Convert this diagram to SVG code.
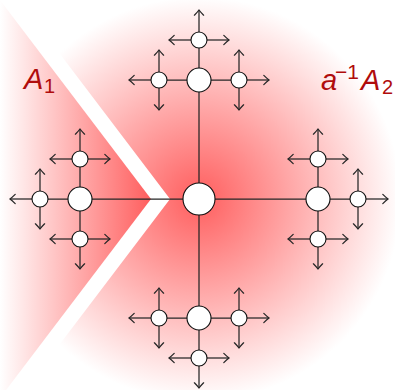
<svg xmlns="http://www.w3.org/2000/svg" width="395" height="390" viewBox="0 0 395 390">
<style>
.ln{stroke:#262626;stroke-width:1.25;fill:none}
.ar{stroke:#262626;stroke-width:1.25;fill:none;marker-end:url(#to)}
.n0,.n1,.n2{fill:#fff;stroke:#111;stroke-width:1.1}
.lbl{font-family:"Liberation Sans",Arial,sans-serif;fill:#b00c0c;font-style:italic}
.up{font-style:normal}
</style>
<defs>
<linearGradient id="gL" gradientUnits="userSpaceOnUse" x1="0" y1="0" x2="151" y2="0">
<stop offset="0" stop-color="#ffffff"/>
<stop offset="1" stop-color="#ff5e5e"/>
</linearGradient>
<radialGradient id="gR" gradientUnits="userSpaceOnUse" cx="199" cy="199" r="202">
<stop offset="0" stop-color="#ff5e5e"/>
<stop offset="1" stop-color="#ffffff"/>
</radialGradient>
<marker id="to" viewBox="-6 -5 7 10" refX="0" refY="0" markerWidth="7" markerHeight="10" markerUnits="userSpaceOnUse" orient="auto" overflow="visible">
<path d="M -5.2,-4.6 Q -1.8,-1.3 0,0 Q -1.8,1.3 -5.2,4.6" fill="none" stroke="#262626" stroke-width="1.25" stroke-linecap="round"/>
</marker>
</defs>
<g id="shading">
<polygon points="0,0 151,199 0,398" fill="url(#gL)"/>
<polygon points="19,0 395,0 395,390 25,390 170,199" fill="url(#gR)"/>
</g>
<g id="connectors">
<path class="ln" d="M199,199V80M199,199H318M199,199V318M199,199H80"/>
<path class="ln" d="M199,80V40M199,80H159M199,80H239"/>
<path class="ln" d="M318,199H358M318,199V159M318,199V239"/>
<path class="ln" d="M199,318V358M199,318H159M199,318H239"/>
<path class="ln" d="M80,199H40M80,199V159M80,199V239"/>
<line class="ar" x1="199" y1="40" x2="199" y2="10"/>
<line class="ar" x1="199" y1="40" x2="169" y2="40"/>
<line class="ar" x1="199" y1="40" x2="229" y2="40"/>
<line class="ar" x1="159" y1="80" x2="129" y2="80"/>
<line class="ar" x1="159" y1="80" x2="159" y2="50"/>
<line class="ar" x1="159" y1="80" x2="159" y2="110"/>
<line class="ar" x1="239" y1="80" x2="269" y2="80"/>
<line class="ar" x1="239" y1="80" x2="239" y2="50"/>
<line class="ar" x1="239" y1="80" x2="239" y2="110"/>
<line class="ar" x1="358" y1="199" x2="388" y2="199"/>
<line class="ar" x1="358" y1="199" x2="358" y2="169"/>
<line class="ar" x1="358" y1="199" x2="358" y2="229"/>
<line class="ar" x1="318" y1="159" x2="318" y2="129"/>
<line class="ar" x1="318" y1="159" x2="288" y2="159"/>
<line class="ar" x1="318" y1="159" x2="348" y2="159"/>
<line class="ar" x1="318" y1="239" x2="318" y2="269"/>
<line class="ar" x1="318" y1="239" x2="288" y2="239"/>
<line class="ar" x1="318" y1="239" x2="348" y2="239"/>
<line class="ar" x1="199" y1="358" x2="199" y2="388"/>
<line class="ar" x1="199" y1="358" x2="169" y2="358"/>
<line class="ar" x1="199" y1="358" x2="229" y2="358"/>
<line class="ar" x1="159" y1="318" x2="129" y2="318"/>
<line class="ar" x1="159" y1="318" x2="159" y2="288"/>
<line class="ar" x1="159" y1="318" x2="159" y2="348"/>
<line class="ar" x1="239" y1="318" x2="269" y2="318"/>
<line class="ar" x1="239" y1="318" x2="239" y2="288"/>
<line class="ar" x1="239" y1="318" x2="239" y2="348"/>
<line class="ar" x1="40" y1="199" x2="10" y2="199"/>
<line class="ar" x1="40" y1="199" x2="40" y2="169"/>
<line class="ar" x1="40" y1="199" x2="40" y2="229"/>
<line class="ar" x1="80" y1="159" x2="80" y2="129"/>
<line class="ar" x1="80" y1="159" x2="50" y2="159"/>
<line class="ar" x1="80" y1="159" x2="110" y2="159"/>
<line class="ar" x1="80" y1="239" x2="80" y2="269"/>
<line class="ar" x1="80" y1="239" x2="50" y2="239"/>
<line class="ar" x1="80" y1="239" x2="110" y2="239"/>
</g>
<g id="root"><circle class="n0" cx="199" cy="199" r="16"/></g>
<g id="n-top"><circle class="n1" cx="199" cy="80" r="12"/></g>
<g id="n-right"><circle class="n1" cx="318" cy="199" r="12"/></g>
<g id="n-bottom"><circle class="n1" cx="199" cy="318" r="12"/></g>
<g id="n-left"><circle class="n1" cx="80" cy="199" r="12"/></g>
<g id="n-top-top"><circle class="n2" cx="199" cy="40" r="8"/></g>
<g id="n-top-left"><circle class="n2" cx="159" cy="80" r="8"/></g>
<g id="n-top-right"><circle class="n2" cx="239" cy="80" r="8"/></g>
<g id="n-right-right"><circle class="n2" cx="358" cy="199" r="8"/></g>
<g id="n-right-top"><circle class="n2" cx="318" cy="159" r="8"/></g>
<g id="n-right-bottom"><circle class="n2" cx="318" cy="239" r="8"/></g>
<g id="n-bottom-bottom"><circle class="n2" cx="199" cy="358" r="8"/></g>
<g id="n-bottom-left"><circle class="n2" cx="159" cy="318" r="8"/></g>
<g id="n-bottom-right"><circle class="n2" cx="239" cy="318" r="8"/></g>
<g id="n-left-left"><circle class="n2" cx="40" cy="199" r="8"/></g>
<g id="n-left-top"><circle class="n2" cx="80" cy="159" r="8"/></g>
<g id="n-left-bottom"><circle class="n2" cx="80" cy="239" r="8"/></g>
<g id="labels">
<text class="lbl" font-size="29"><tspan x="24" y="89">A</tspan><tspan class="up" x="44" y="93" font-size="20">1</tspan></text>
<text class="lbl" font-size="29"><tspan x="321" y="90">a</tspan><tspan class="up" x="335" y="79" font-size="21">−1</tspan><tspan x="361" y="90">A</tspan><tspan class="up" x="382" y="94" font-size="20">2</tspan></text>
</g>
</svg>
